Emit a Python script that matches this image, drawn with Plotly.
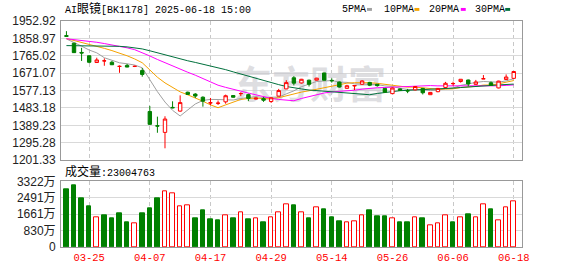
import plotly.graph_objects as go

# ---------------- data ----------------
dates = ["03-20", "03-21", "03-24", "03-25", "03-26", "03-27", "03-28", "03-31",
         "04-01", "04-02", "04-03", "04-07", "04-08", "04-09", "04-10", "04-11",
         "04-14", "04-15", "04-16", "04-17", "04-18", "04-21", "04-22", "04-23",
         "04-24", "04-25", "04-28", "04-29", "04-30", "05-06", "05-07", "05-08",
         "05-09", "05-12", "05-13", "05-14", "05-15", "05-16", "05-19", "05-20",
         "05-21", "05-22", "05-23", "05-26", "05-27", "05-28", "05-29", "05-30",
         "06-03", "06-04", "06-05", "06-06", "06-09", "06-10", "06-11", "06-12",
         "06-13", "06-16", "06-17", "06-18"]
tick_dates = ["03-25", "04-07", "04-17", "04-29", "05-14", "05-26", "06-06", "06-18"]

opens = [1874, 1833, 1783, 1765, 1728.5, 1737, 1730, 1707, 1713, 1707,
         1685, 1464, 1387, 1351, 1486, 1466, 1568, 1558, 1541, 1510,
         1508, 1516, 1550, 1560, 1555, 1531, 1533, 1518, 1547, 1586,
         1646, 1618, 1633, 1633, 1672, 1632, 1623, 1589, 1602, 1611,
         1621, 1611, 1588.6, 1560.4, 1586, 1576, 1580.8, 1588.6, 1554.7, 1570.9,
         1593.8, 1614, 1626, 1634, 1610.5, 1640, 1618.9, 1591.2, 1637, 1643]
highs = [1898, 1835, 1808, 1766, 1754.6, 1751, 1737, 1713, 1721, 1712,
         1699, 1494, 1436, 1438, 1519, 1551, 1571, 1563, 1546, 1537,
         1523, 1555, 1553, 1568, 1560, 1539, 1542, 1540, 1586, 1633,
         1655, 1640, 1636, 1646, 1673, 1643, 1626, 1608, 1605, 1633,
         1624, 1613, 1590, 1593, 1589, 1586, 1600, 1591, 1568, 1590,
         1624, 1625, 1638.5, 1636, 1634.5, 1660.6, 1626, 1630, 1664.3, 1682]
lows = [1868, 1780, 1737, 1725, 1727, 1711, 1715, 1673, 1703, 1704,
        1652, 1391, 1349, 1265, 1481, 1463, 1553, 1537, 1490, 1498,
        1499, 1506, 1539, 1547, 1520, 1528, 1516, 1510, 1546, 1585,
        1605, 1615, 1599, 1631, 1632, 1620, 1593, 1587, 1580, 1608,
        1601, 1598, 1566, 1558, 1576, 1563, 1578, 1556, 1553, 1568,
        1592, 1603, 1620, 1599.6, 1609, 1639.5, 1603, 1589, 1636, 1641]
closes = [1870, 1782, 1780, 1730, 1742.5, 1737.8, 1716.5, 1708, 1704, 1708,
          1664.3, 1394.4, 1385, 1423, 1484, 1512, 1556.2, 1547.3, 1519.7, 1511,
          1509, 1549, 1541, 1561, 1534.7, 1536, 1525, 1538, 1577, 1620,
          1617, 1638, 1611, 1644, 1633, 1630, 1596, 1603, 1604, 1629,
          1606, 1603.7, 1567.7, 1590.7, 1578.4, 1575, 1599, 1565, 1567, 1588.6,
          1616.3, 1615, 1638, 1612.6, 1623.6, 1641, 1605, 1628, 1650, 1680]

# volume in units of 万 (10k shares)
volumes = [2901, 3110, 2464, 2075, 1477, 1589, 1443, 1686, 1264, 1200,
           1686, 1978, 2464, 2838, 2707, 2061, 2109, 1443, 1832, 1395,
           1346, 1623, 1443, 1769, 1395, 1429, 1249, 1477, 1769, 2158,
           2124, 1769, 1443, 2012, 1881, 1492, 1312, 1234, 1283, 1623,
           1832, 1541, 1541, 1429, 1249, 1249, 1477, 1429, 1089, 1186,
           1623, 1249, 1526, 1638, 1526, 2158, 1929, 1346, 2012, 2300]
vol_up = [0, 0, 0, 0, 1, 0, 0, 0, 0, 1,
          0, 0, 0, 1, 1, 1, 1, 0, 0, 0,
          0, 1, 0, 1, 0, 1, 0, 1, 1, 1,
          0, 1, 0, 1, 0, 0, 0, 1, 1, 1,
          0, 0, 0, 1, 0, 0, 1, 0, 1, 1,
          1, 0, 1, 0, 1, 1, 0, 1, 1, 1]

ma5 = [1856, 1838, 1817, 1796, 1780.9, 1754.5, 1741.4, 1727.0, 1721.8, 1714.9,
       1700.2, 1635.7, 1571.1, 1514.9, 1470.1, 1439.7, 1472.0, 1504.5, 1523.8, 1529.2,
       1528.6, 1527.2, 1525.9, 1534.2, 1538.9, 1544.3, 1539.5, 1538.9, 1542.1, 1559.2,
       1575.4, 1598.0, 1612.6, 1626.0, 1628.6, 1631.2, 1622.8, 1621.2, 1613.2, 1612.4,
       1607.6, 1609.1, 1602.1, 1599.4, 1589.3, 1583.1, 1582.2, 1581.6, 1576.9, 1578.9,
       1587.2, 1590.4, 1605.0, 1614.1, 1621.1, 1626.0, 1624.0, 1622.0, 1629.5, 1640.8]
ma10 = [1858, 1848, 1838, 1828, 1817, 1805, 1793, 1780, 1765, 1747.9,
        1727.3, 1688.6, 1649.1, 1618.4, 1592.5, 1569.9, 1553.9, 1537.8, 1519.4, 1499.7,
        1484.2, 1499.6, 1515.2, 1529.0, 1534.1, 1536.5, 1533.4, 1532.4, 1538.2, 1549.1,
        1559.9, 1568.8, 1575.8, 1584.1, 1593.9, 1603.3, 1610.4, 1616.9, 1619.6, 1620.5,
        1619.4, 1616.0, 1611.6, 1606.3, 1600.9, 1595.4, 1595.7, 1591.6, 1588.2, 1584.1,
        1585.1, 1586.3, 1593.3, 1595.5, 1600.0, 1606.6, 1607.2, 1613.5, 1621.8, 1631.0]
ma20 = [1857, 1853, 1849, 1844, 1838, 1831, 1824, 1816, 1808, 1798,
        1783, 1764, 1745, 1727, 1709, 1692, 1676, 1660, 1643, 1624.0,
        1605.9, 1594.3, 1582.1, 1573.7, 1563.3, 1553.2, 1543.6, 1535.1, 1528.8, 1524.4,
        1522.0, 1534.2, 1545.5, 1556.5, 1564.0, 1569.9, 1571.9, 1574.7, 1578.8, 1584.7,
        1589.6, 1592.3, 1593.7, 1595.1, 1597.3, 1599.3, 1603.0, 1604.4, 1603.9, 1602.4,
        1602.3, 1601.2, 1602.5, 1601.0, 1600.5, 1601.0, 1601.5, 1602.6, 1605.0, 1607.5]
ma30 = [1820, 1820, 1819, 1819, 1818, 1818, 1817, 1816, 1813, 1808,
        1802, 1792, 1781, 1769, 1757, 1747, 1738, 1729, 1720, 1711,
        1701, 1690, 1678, 1666, 1654, 1642, 1631, 1620, 1609, 1598.9,
        1590.5, 1585.7, 1579.9, 1577.1, 1573.4, 1569.8, 1565.8, 1562.3, 1559.0, 1556.4,
        1554.4, 1561.4, 1567.5, 1573.1, 1576.2, 1578.3, 1579.8, 1580.4, 1582.0, 1584.5,
        1588.1, 1590.3, 1593.5, 1595.3, 1598.2, 1601.8, 1604.5, 1607.5, 1609.9, 1611.9]

price_ticks = [1201.33, 1295.28, 1389.23, 1483.18, 1577.13, 1671.07, 1765.02, 1858.97, 1952.92]
vol_ticks = [0, 830.5, 1661, 2491.5, 3322]
vol_tick_text = ["0", "830万", "1661万", "2491万", "3322万"]
last_volume_text = "23004763"
title_text = "AI眼镜[BK1178] 2025-06-18 15:00"
ma_names = ["5PMA", "10PMA", "20PMA", "30PMA"]

# ---------------- styles ----------------
RED = "#FF0000"
GREEN = "#008000"
MA_COLORS = ["#A0A0A0", "#F5A300", "#FF00FF", "#00703C"]
FRAME = "#999999"
GRID = "#D9D9D9"
VGRID = "#C8C8C8"
MONO = "Liberation Mono, Noto Sans CJK SC, monospace"
SANS = "Liberation Sans, Arial, Noto Sans CJK SC, sans-serif"

W, H = 578, 276
L, R, T, B = 55, 56, 21, 21
plot_w = W - L - R
plot_h = H - T - B
price_top, price_bot = 21, 165
vol_top, vol_bot = 187, 255

idx = list(range(len(dates)))
tick_idx = [dates.index(d) for d in tick_dates]
xr = [-0.716, 60.09]
price_range = [price_ticks[0], price_ticks[-1]]


def py(pix):
    """pixel row -> paper y"""
    return (H - B - pix) / plot_h


def px(pix):
    return (pix - L) / plot_w


fig = go.Figure()

# watermark (below the data)
fig.add_trace(go.Scatter(
    x=[xr[0] + (xr[1] - xr[0]) * 0.54], y=[price_range[0] + (price_range[1] - price_range[0]) * 0.515],
    mode="text", text=["东方财富"],
    textfont=dict(family="Noto Sans CJK SC", size=38, color="rgba(200,200,206,0.6)", weight="bold"),
    hoverinfo="skip", showlegend=False, xaxis="x", yaxis="y"))

# moving averages
for name, vals, col in zip(ma_names, [ma5, ma10, ma20, ma30], MA_COLORS):
    fig.add_trace(go.Scatter(x=idx, y=vals, mode="lines", name=name,
                             line=dict(color=col, width=1), hoverinfo="skip",
                             showlegend=False, xaxis="x", yaxis="y"))

# candles (on an overlaying axis so that they sit above the lines)
fig.add_trace(go.Candlestick(
    x=idx, open=opens, high=highs, low=lows, close=closes,
    increasing=dict(line=dict(color=RED, width=1), fillcolor="#FFFFFF"),
    decreasing=dict(line=dict(color=GREEN, width=1), fillcolor=GREEN),
    whiskerwidth=0, showlegend=False, hoverinfo="skip",
    xaxis="x", yaxis="y3"))

# volume
fig.add_trace(go.Bar(
    x=idx, y=volumes, width=0.6,
    marker=dict(color=["#FFFFFF" if u else GREEN for u in vol_up],
                line=dict(color=[RED if u else GREEN for u in vol_up], width=1)),
    showlegend=False, hoverinfo="skip", xaxis="x2", yaxis="y2"))

axis_common = dict(showline=True, mirror=True, linecolor=FRAME, linewidth=1,
                   zeroline=False, fixedrange=True)

fig.update_layout(
    width=W, height=H,
    margin=dict(l=L, r=R, t=T, b=B, pad=0),
    paper_bgcolor="white", plot_bgcolor="white",
    boxgap=0.36,
    bargap=0,
    xaxis=dict(domain=[0, 1], anchor="y", range=xr, tickvals=tick_idx,
               showticklabels=False, ticks="", showgrid=True, gridcolor=VGRID,
               griddash="4px,3px", gridwidth=1,
               rangeslider=dict(visible=False), **axis_common),
    yaxis=dict(domain=[py(price_bot), 1], anchor="x", range=price_range,
               tickvals=price_ticks, ticktext=[f"{v:.2f}" for v in price_ticks],
               tickfont=dict(family=SANS, size=12, color="#222222"),
               ticks="", showgrid=True, gridcolor=GRID, gridwidth=1,
               ticklabelstandoff=2, **axis_common),
    yaxis3=dict(overlaying="y", anchor="x", range=price_range, visible=False,
                fixedrange=True),
    xaxis2=dict(domain=[0, 1], anchor="y2", range=xr, tickvals=tick_idx,
                ticktext=tick_dates, tickfont=dict(family=MONO, size=10.5, color=RED),
                ticks="", showgrid=True, gridcolor=VGRID, griddash="4px,3px",
                gridwidth=1, **axis_common),
    yaxis2=dict(domain=[0, py(vol_top)], anchor="x2", range=[0, vol_ticks[-1]],
                tickvals=vol_ticks, ticktext=vol_tick_text,
                tickfont=dict(family=SANS, size=12, color="#222222"),
                ticks="", showgrid=True, gridcolor=GRID, gridwidth=1,
                ticklabelstandoff=2, **axis_common),
    showlegend=False,
)

# title
fig.add_annotation(
    xref="paper", yref="paper", x=px(57), y=py(9), xanchor="left", yanchor="middle",
    text=title_text.replace("眼镜", "<span style='font-size:12px'>眼镜</span>"),
    showarrow=False, font=dict(family=MONO, size=10, color="#000000"))

# volume caption
fig.add_annotation(
    xref="paper", yref="paper", x=px(57), y=py(177), xanchor="left", yanchor="middle",
    text="<span style='font-size:12px'>成交量</span>:" + last_volume_text,
    showarrow=False, font=dict(family=MONO, size=10, color="#000000"))

# custom legend: labels + small colour blocks
legend_text_x = [338, 380, 426, 472]
legend_box_x = [365, 413, 460, 505]
for name, col, tx, bx in zip(ma_names, MA_COLORS, legend_text_x, legend_box_x):
    fig.add_annotation(xref="paper", yref="paper", x=px(tx), y=py(9),
                       xanchor="left", yanchor="middle", text=name, showarrow=False,
                       font=dict(family=MONO, size=10, color="#000000"))
    fig.add_shape(type="rect", xref="paper", yref="paper",
                  x0=px(bx), x1=px(bx + 5), y0=py(10.5), y1=py(7.5),
                  fillcolor=col, line=dict(width=0))

fig.write_html("out.html", config={"displayModeBar": False})
